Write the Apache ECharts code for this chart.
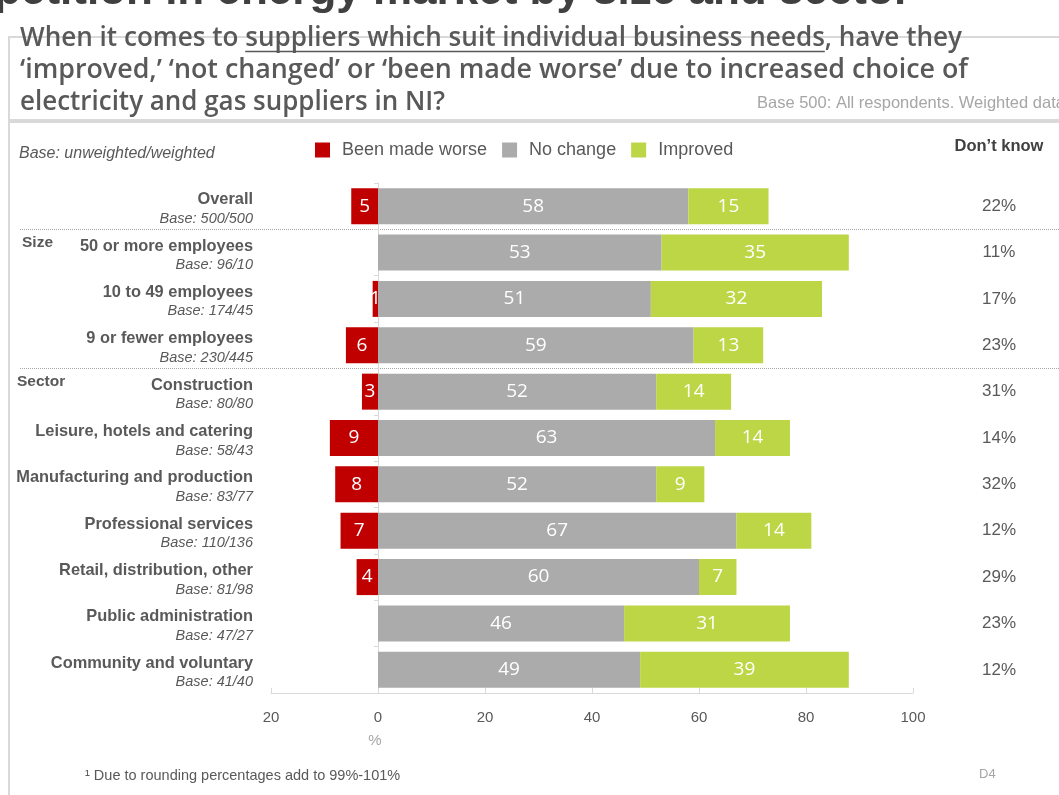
<!DOCTYPE html>
<html>
<head>
<meta charset="utf-8">
<script src="https://cdn.jsdelivr.net/npm/echarts@6/dist/echarts.min.js"></script>
<style>
  html, body { margin: 0; padding: 0; background: #ffffff; }
  #chart { width: 1059px; height: 795px; }
</style>
</head>
<body>
<div id="chart"></div>
<script>
// Survey rows, top to bottom
const categories = [
  'Overall',
  '50 or more employees',
  '10 to 49 employees',
  '9 or fewer employees',
  'Construction',
  'Leisure, hotels and catering',
  'Manufacturing and production',
  'Professional services',
  'Retail, distribution, other',
  'Public administration',
  'Community and voluntary'
];
const bases = [
  'Base: 500/500', 'Base: 96/10', 'Base: 174/45', 'Base: 230/445',
  'Base: 80/80', 'Base: 58/43', 'Base: 83/77', 'Base: 110/136',
  'Base: 81/98', 'Base: 47/27', 'Base: 41/40'
];
// Percentages per answer
const madeWorse = [5, 0, 1, 6, 3, 9, 8, 7, 4, 0, 0];
const noChange  = [58, 53, 51, 59, 52, 63, 52, 67, 60, 46, 49];
const improved  = [15, 35, 32, 13, 14, 14, 9, 14, 7, 31, 39];
const dontKnow  = [22, 11, 17, 23, 31, 14, 32, 12, 29, 23, 12];
// Row groups: label and index of first row
const groups = [
  { label: 'Size', first: 1, x: 22 },
  { label: 'Sector', first: 4, x: 17 }
];

const titleLines = [
  'When it comes to suppliers which suit individual business needs, have they',
  '\u2018improved,\u2019 \u2018not changed\u2019 or \u2018been made worse\u2019 due to increased choice of',
  'electricity and gas suppliers in NI?'
];
// width each question line takes on the page
const titleWidths = [942, 948, 425];
const underlined = 'suppliers which suit individual business needs';

const TEXT = '#595959';
const LIGHT = '#a6a6a6';
const AXIS = '#d9d9d9';
const RED = '#c00000';
const GREY = '#ababab';
const GREEN = '#bdd646';

// Question font is drawn at a fixed size and squeezed horizontally to each line width
const titleFont = '600 27px "Open Sans"';
const measure = (() => {
  const ctx = document.createElement('canvas').getContext('2d');
  ctx.font = titleFont;
  return s => ctx.measureText(s).width;
})();
const titleLeft = 20;
const titleScales = titleLines.map((t, i) => titleWidths[i] / measure(t));
const ulStart = titleLeft + measure('When it comes to ') * titleScales[0];
const ulEnd = titleLeft + measure('When it comes to ' + underlined) * titleScales[0];

const chart = echarts.init(document.getElementById('chart'));

const barLabel = {
  show: true,
  position: 'inside',
  color: '#ffffff',
  fontFamily: '"Open Sans"',
  fontSize: 19,
  formatter: p => (p.value === 0 ? '' : Math.abs(p.value))
};

const staticGraphics = [
  // frame
  { type: 'rect', shape: { x: 9, y: 37, width: 1070, height: 780 },
    style: { fill: 'none', stroke: AXIS, lineWidth: 2 }, silent: true },
  { type: 'rect', shape: { x: 10, y: 119, width: 1049, height: 4 },
    style: { fill: AXIS }, silent: true },
  // page heading, cut by the top edge
  { type: 'text', x: 911, y: 14,
    style: { text: 'Competition in energy market by size and sector', fill: '#404040',
      font: 'bold 44px "Liberation Sans"', textAlign: 'right', textVerticalAlign: 'bottom' } },
  // question
  ...titleLines.map((t, i) => ({
    type: 'text', x: titleLeft, y: 38 + i * 32, scaleX: titleScales[i],
    style: { text: t, fill: TEXT, font: titleFont, textAlign: 'left', textVerticalAlign: 'middle' }
  })),
  { type: 'line', shape: { x1: ulStart, y1: 51.5, x2: ulEnd, y2: 51.5 },
    style: { stroke: TEXT, lineWidth: 1.5 } },
  { type: 'text', x: 757, y: 103,
    style: { text: 'Base 500: All respondents. Weighted data', fill: LIGHT,
      font: '16.5px "Liberation Sans"', textVerticalAlign: 'middle' } },
  { type: 'text', x: 19, y: 154,
    style: { text: 'Base: unweighted/weighted', fill: TEXT,
      font: 'italic 16px "Liberation Sans"', textVerticalAlign: 'middle' } },
  { type: 'text', x: 999, y: 146,
    style: { text: 'Don\u2019t know', fill: '#404040',
      font: 'bold 16.5px "Liberation Sans"', textAlign: 'center', textVerticalAlign: 'middle' } },
  { type: 'text', x: 375, y: 741,
    style: { text: '%', fill: LIGHT, font: '15px "Liberation Sans"',
      textAlign: 'center', textVerticalAlign: 'middle' } },
  { type: 'text', x: 85, y: 776,
    style: { text: '\u00b9 Due to rounding percentages add to 99%-101%', fill: TEXT,
      font: '14.5px "Liberation Sans"', textVerticalAlign: 'middle' } },
  { type: 'text', x: 979, y: 774,
    style: { text: 'D4', fill: LIGHT, font: '13px "Liberation Sans"', textVerticalAlign: 'middle' } }
];

chart.setOption({
  animation: false,
  textStyle: { fontFamily: '"Liberation Sans", Arial, sans-serif' },
  legend: {
    data: ['Been made worse', 'No change', 'Improved'],
    left: 315, top: 141, padding: 0,
    icon: 'rect', itemWidth: 15, itemHeight: 15, itemGap: 15,
    textStyle: { fontSize: 18, color: TEXT, padding: [0, 0, 0, 7] }
  },
  grid: { left: 271, right: 146, top: 183, bottom: 102, containLabel: false },
  xAxis: {
    type: 'value', min: -20, max: 100, interval: 20,
    axisLine: { show: true, onZero: false, lineStyle: { color: AXIS } },
    axisTick: { show: true, inside: true, length: 5, lineStyle: { color: AXIS } },
    splitLine: { show: false },
    axisLabel: { color: TEXT, fontSize: 15, margin: 17, formatter: v => Math.abs(v) }
  },
  yAxis: [
    {
      type: 'category', data: categories, inverse: true, position: 'left',
      axisLine: { show: false, onZero: false }, axisTick: { show: false },
      axisLabel: {
        margin: 18, align: 'right', padding: [6, 0, 0, 0],
        formatter: (v, i) => '{n|' + v + '}\n{b|' + bases[i] + '}',
        rich: {
          n: { fontSize: 16.4, fontWeight: 'bold', color: TEXT, lineHeight: 19, align: 'right' },
          b: { fontSize: 14.5, fontStyle: 'italic', color: TEXT, lineHeight: 19, align: 'right' }
        }
      }
    },
    {
      type: 'category', data: categories, inverse: true, position: 'left',
      axisLine: { show: true, onZero: true, lineStyle: { color: AXIS } },
      axisTick: { show: true, length: 4, lineStyle: { color: AXIS } },
      axisLabel: { show: false }
    },
    {
      type: 'category', data: categories, inverse: true, position: 'right',
      axisLine: { show: false, onZero: false }, axisTick: { show: false },
      axisLabel: {
        margin: 86, align: 'center', color: TEXT, fontSize: 17,
        formatter: (v, i) => dontKnow[i] + '%'
      }
    }
  ],
  series: [
    { name: 'Been made worse', type: 'bar', stack: 'all', barWidth: 36,
      itemStyle: { color: RED }, label: barLabel, data: madeWorse.map(v => -v) },
    { name: 'No change', type: 'bar', stack: 'all', barWidth: 36,
      itemStyle: { color: GREY }, label: barLabel, data: noChange },
    { name: 'Improved', type: 'bar', stack: 'all', barWidth: 36,
      itemStyle: { color: GREEN }, label: barLabel, data: improved }
  ],
  graphic: staticGraphics
});

// Group separators and group names follow the category band positions
const rowY = i => chart.convertToPixel({ yAxisIndex: 0 }, i);
const band = rowY(1) - rowY(0);
const groupGraphics = [];
groups.forEach(g => {
  const yEdge = Math.round(rowY(g.first) - band / 2) + 0.5;
  groupGraphics.push({
    type: 'line', shape: { x1: 20, y1: yEdge, x2: 1059, y2: yEdge },
    style: { stroke: LIGHT, lineWidth: 1, lineDash: [1, 1] }, silent: true
  });
  groupGraphics.push({
    type: 'text', x: g.x, y: rowY(g.first) - 10,
    style: { text: g.label, fill: TEXT, font: 'bold 15.5px "Liberation Sans"', textVerticalAlign: 'middle' }
  });
});
chart.setOption({ graphic: staticGraphics.concat(groupGraphics) });
</script>
</body>
</html>
